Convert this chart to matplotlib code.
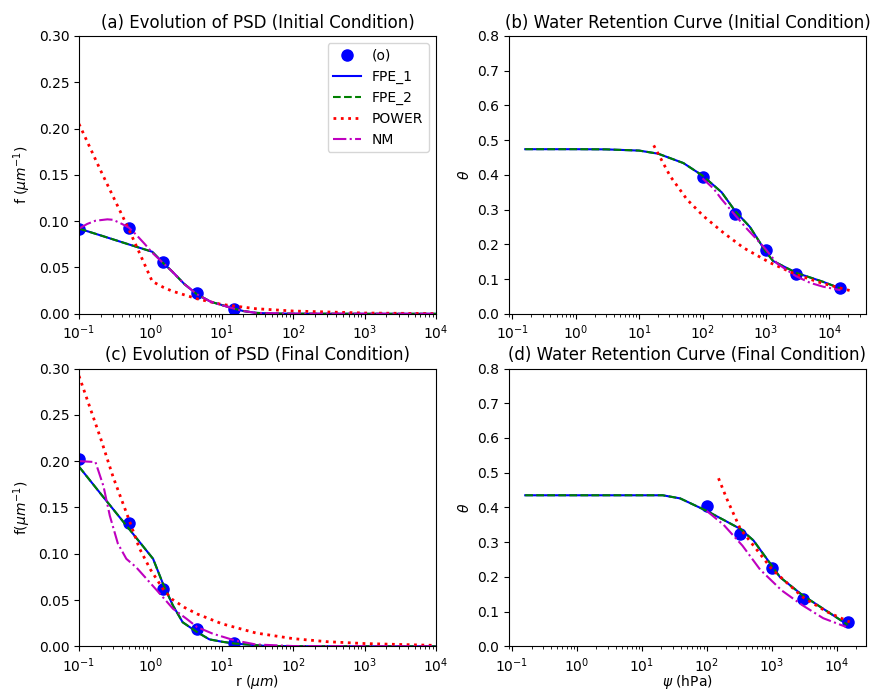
import matplotlib
matplotlib.use('Agg')
import matplotlib.pyplot as plt
import numpy as np

# measured points: pore radius (um) and matching suction (hPa)
r_obs = [0.1, 0.5, 1.5, 4.5, 15]
psi_obs = [15000, 3000, 1000, 330, 100]
f_obs_init = [0.092, 0.093, 0.056, 0.022, 0.005]
f_obs_final = [0.202, 0.1336, 0.0614, 0.019, 0.004]
theta_obs_init = [0.074, 0.114, 0.185, 0.288, 0.394]
theta_obs_final = [0.07, 0.137, 0.225, 0.324, 0.405]

# PSD models, initial condition
r_fpe_init = [0.1, 0.2, 0.5, 1.06, 1.5, 2, 3, 4.5, 7, 10, 15, 20, 30, 50, 100, 1000, 10000]
f_fpe_init = [0.092, 0.0847, 0.0749, 0.067, 0.055, 0.046, 0.032, 0.021, 0.013, 0.0095,
              0.0055, 0.003, 0.001, 0.0003, 0.0001, 0.0, 0.0]
r_pow_init = [0.1, 0.2, 0.5, 0.7, 1.06, 1.5, 2, 4.5, 10, 30, 100, 1000, 10000]
f_pow_init = [0.205, 0.155, 0.091, 0.066, 0.035, 0.0288, 0.0246, 0.0162, 0.0101,
              0.0055, 0.003, 0.00083, 0.0002]
r_nm_init = [0.1, 0.13, 0.17, 0.25, 0.3, 0.4, 0.5, 0.63, 0.83, 1.06, 1.5, 2, 3, 4.5, 7,
             10, 15, 20, 30, 100, 10000]
f_nm_init = [0.092, 0.097, 0.1005, 0.102, 0.1015, 0.097, 0.093, 0.0855, 0.0755, 0.066,
             0.055, 0.046, 0.032, 0.021, 0.013, 0.0093, 0.0055, 0.003, 0.001, 0.0001, 0.0]

# PSD models, final condition
r_fpe_final = [0.1, 0.2, 0.5, 1.09, 1.5, 2.07, 2.83, 4.5, 6.7, 10, 15, 40, 100, 10000]
f_fpe_final = [0.194, 0.165, 0.127, 0.0945, 0.0675, 0.044, 0.026, 0.0154, 0.0075, 0.005,
               0.003, 0.0005, 0.0001, 0.0]
r_pow_final = [0.1, 0.2, 0.3, 0.5, 0.7, 1.0, 1.5, 2, 3, 4.5, 10, 30, 100, 300, 1000, 10000]
f_pow_final = [0.292, 0.225, 0.183, 0.137, 0.106, 0.083, 0.062, 0.051, 0.042, 0.035,
               0.0244, 0.0144, 0.0083, 0.005, 0.003, 0.001]
r_nm_final = [0.1, 0.17, 0.22, 0.27, 0.35, 0.46, 0.63, 0.88, 1.35, 2.07, 3.2, 4.5, 7.5,
              15, 30, 100, 10000]
f_nm_final = [0.2, 0.199, 0.173, 0.141, 0.111, 0.0945, 0.0855, 0.073, 0.057, 0.0406,
              0.0298, 0.0208, 0.0136, 0.0065, 0.002, 0.0003, 0.0]

# water retention, initial condition
psi_fpe_init = [0.16, 1, 3, 10, 20, 50, 100, 200, 330, 560, 1000, 1300, 3000, 8000, 14900]
th_fpe_init = [0.474, 0.474, 0.4735, 0.47, 0.461, 0.434, 0.398, 0.35, 0.295, 0.25, 0.178,
               0.152, 0.118, 0.092, 0.073]
psi_pow_init = [17, 31, 57, 104, 215, 443, 1164, 3000, 8000, 21000]
th_pow_init = [0.485, 0.396, 0.329, 0.281, 0.233, 0.19, 0.147, 0.113, 0.087, 0.067]
psi_nm_init = [100, 150, 200, 330, 500, 800, 1000, 1500, 3000, 5000, 8000, 15000]
th_nm_init = [0.39, 0.36, 0.33, 0.283, 0.245, 0.205, 0.185, 0.145, 0.108, 0.089, 0.078, 0.068]

# water retention, final condition
psi_fpe_final = [0.16, 1, 10, 21, 39, 100, 200, 330, 525, 1000, 1350, 3000, 8000, 14900]
th_fpe_final = [0.435, 0.435, 0.435, 0.435, 0.426, 0.39, 0.36, 0.338, 0.305, 0.233, 0.199,
                0.147, 0.095, 0.062]
psi_pow_final = [152, 205, 330, 665, 1000, 3000, 7000, 16000]
th_pow_final = [0.484, 0.424, 0.338, 0.266, 0.223, 0.142, 0.10, 0.07]
psi_nm_final = [100, 182, 355, 665, 1430, 3000, 6240, 14000]
th_nm_final = [0.39, 0.35, 0.29, 0.221, 0.161, 0.118, 0.081, 0.056]


def draw_panel(ax, x_obs, y_obs, fpe, pw, nm, title):
    ax.plot(x_obs, y_obs, 'bo', markersize=8, label='(o)')
    ax.plot(*fpe, 'b-', label='FPE_1')
    ax.plot(*fpe, 'g--', label='FPE_2')
    ax.plot(*pw, 'r:', linewidth=2, label='POWER')
    ax.plot(*nm, 'm-.', label='NM')
    ax.set_xscale('log')
    ax.set_title(title)


fig, axs = plt.subplots(2, 2, figsize=(8.75, 6.92), dpi=100)

ax = axs[0, 0]
draw_panel(ax, r_obs, f_obs_init, (r_fpe_init, f_fpe_init), (r_pow_init, f_pow_init),
           (r_nm_init, f_nm_init), '(a) Evolution of PSD (Initial Condition)')
ax.set_xlim(1e-1, 1e4)
ax.set_ylim(0, 0.3)
ax.set_ylabel(r'f ($\mu m^{-1}$)')
ax.legend(loc='upper right')

ax = axs[0, 1]
draw_panel(ax, psi_obs, theta_obs_init, (psi_fpe_init, th_fpe_init),
           (psi_pow_init, th_pow_init), (psi_nm_init, th_nm_init),
           '(b) Water Retention Curve (Initial Condition)')
ax.set_ylim(0, 0.8)
ax.set_ylabel(r'$\theta$')

ax = axs[1, 0]
draw_panel(ax, r_obs, f_obs_final, (r_fpe_final, f_fpe_final), (r_pow_final, f_pow_final),
           (r_nm_final, f_nm_final), '(c) Evolution of PSD (Final Condition)')
ax.set_xlim(1e-1, 1e4)
ax.set_ylim(0, 0.3)
ax.set_ylabel(r'f($\mu m^{-1}$)')
ax.set_xlabel(r'r ($\mu m$)', labelpad=-1)

ax = axs[1, 1]
draw_panel(ax, psi_obs, theta_obs_final, (psi_fpe_final, th_fpe_final),
           (psi_pow_final, th_pow_final), (psi_nm_final, th_nm_final),
           '(d) Water Retention Curve (Final Condition)')
ax.set_ylim(0, 0.8)
ax.set_ylabel(r'$\theta$')
ax.set_xlabel(r'$\psi$ (hPa)', labelpad=-1)

fig.subplots_adjust(left=0.0903, right=0.9897, top=0.948, bottom=0.066,
                    wspace=0.2045, hspace=0.197)
plt.savefig('out.png')
